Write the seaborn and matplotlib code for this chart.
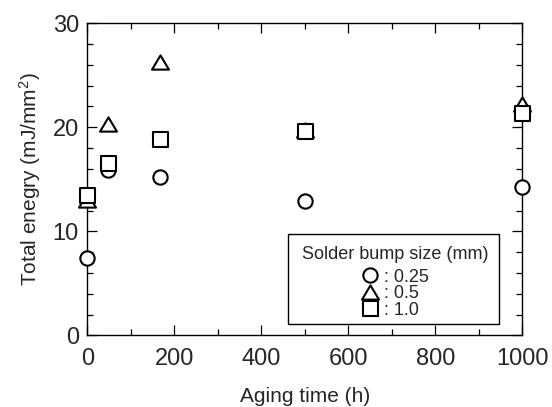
import numpy as np
import pandas as pd
import matplotlib
matplotlib.use("Agg")
import matplotlib.pyplot as plt
import seaborn as sns
from matplotlib.lines import Line2D
from matplotlib.path import Path
from matplotlib.patches import Rectangle
from matplotlib.ticker import MultipleLocator

# ---- data ----
aging_time = [0, 48, 168, 500, 1000]
energy_025 = [7.4, 15.9, 15.25, 12.9, 14.3]
energy_05 = [13.0, 20.3, 26.3, 19.7, 22.2]
energy_10 = [13.5, 16.6, 18.9, 19.6, 21.4]
bump_labels = [": 0.25", ": 0.5", ": 1.0"]

sns.set_style("ticks")
plt.rcParams["font.family"] = ["Liberation Sans", "DejaVu Sans"]
plt.rcParams["mathtext.fontset"] = "custom"
plt.rcParams["mathtext.rm"] = "Liberation Sans"
plt.rcParams["mathtext.it"] = "Liberation Sans:italic"

tri = Path([(0, 0.5), (-0.595, -0.5), (0.595, -0.5), (0, 0.5)], closed=True)
markers = ["o", tri, "s"]
sizes_pt = [10.3, 12.2, 10.8]
series = [energy_025, energy_05, energy_10]

fig = plt.figure(figsize=(5.52, 4.07), dpi=100)
ax = fig.add_axes([0.158, 0.176, 0.788, 0.767])

for i, (yv, mk, ms) in enumerate(zip(series, markers, sizes_pt)):
    df = pd.DataFrame({"t": aging_time, "e": yv})
    sns.scatterplot(data=df, x="t", y="e", marker=mk, s=ms ** 2,
                    color="white", edgecolor="black", linewidth=1.5,
                    clip_on=False, zorder=3 + i, legend=False, ax=ax)

ax.set_xlim(0, 1000)
ax.set_ylim(0, 30)
ax.xaxis.set_major_locator(MultipleLocator(200))
ax.xaxis.set_minor_locator(MultipleLocator(100))
ax.yaxis.set_major_locator(MultipleLocator(10))
ax.yaxis.set_minor_locator(MultipleLocator(2))
ax.tick_params(which="both", direction="in", top=True, right=True,
               color="black", width=0.9)
ax.tick_params(which="major", length=7, labelsize=17, pad=9)
ax.tick_params(which="minor", length=4.3)
ax.tick_params(axis="y", which="major", pad=6)
for sp in ax.spines.values():
    sp.set_linewidth(1.0)
    sp.set_color("black")

ax.set_xlabel("Aging time (h)", fontsize=15, labelpad=12.5)
ax.set_ylabel("Total enegry (mJ/mm$^2$)", fontsize=15, labelpad=7)

# legend frame
frame = Rectangle((0.462, 0.036), 0.485, 0.289, transform=ax.transAxes,
                  facecolor="white", edgecolor="black", linewidth=1.0,
                  zorder=7)
ax.add_patch(frame)

handles = [Line2D([], [], linestyle="none", marker=mk, markersize=ms,
                  markerfacecolor="white", markeredgecolor="black",
                  markeredgewidth=1.5)
           for mk, ms in zip(markers, sizes_pt)]
leg = ax.legend(handles, bump_labels, title="Solder bump size (mm)",
                loc="upper center", bbox_to_anchor=(0.708, 0.286),
                fontsize=13, title_fontsize=13, frameon=False,
                labelspacing=-0.025, handlelength=1.0, handletextpad=0.3,
                borderpad=0, borderaxespad=0)
leg._legend_box.sep = 4
leg.set_zorder(8)

fig.savefig("out.png", dpi=100)
